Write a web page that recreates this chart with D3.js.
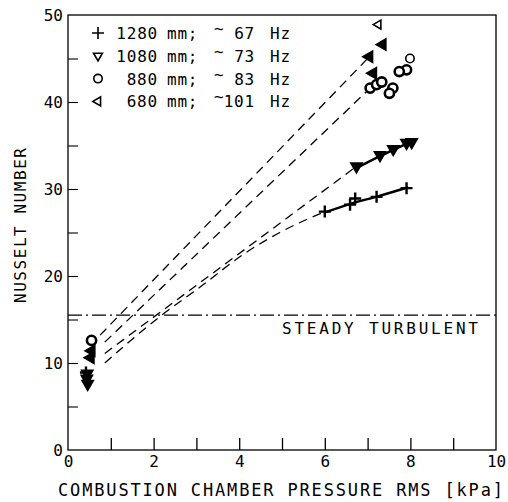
<!DOCTYPE html>
<html>
<head>
<meta charset="utf-8">
<script src="https://cdn.jsdelivr.net/npm/d3@7"></script>
<style>
  body { margin: 0; background: #fff; }
  text { font-family: "DejaVu Sans Mono", monospace; fill: #000; }
</style>
</head>
<body>
<div id="chart"></div>
<script>
// data (x = pressure rms kPa, y = Nusselt number)
var series1280 = [[0.42, 8.9], [6.0, 27.4], [6.59, 28.2], [6.71, 28.9], [7.21, 29.1], [7.91, 30.1]];
var series1080 = [[0.45, 8.8], [0.44, 8.2], [0.46, 7.6], [6.74, 32.6], [7.29, 33.9], [7.6, 34.6], [7.91, 35.3], [8.03, 35.4]];
var series880 = [[0.55, 12.6], [7.99, 45.0], [7.91, 43.7], [7.74, 43.5], [7.59, 41.6], [7.51, 41.0], [7.06, 41.6], [7.21, 42.0], [7.33, 42.3]];
var series680 = [[0.55, 11.4], [0.53, 10.6], [7.25, 48.9], [7.35, 46.6], [7.04, 45.2], [7.13, 43.3]];

// solid fits through the high pressure points
var fit1280 = [[6.0, 27.3], [6.6, 28.3], [7.2, 29.1], [7.95, 30.2]];
var fit1080 = [[6.74, 32.4], [7.3, 33.8], [7.6, 34.5], [8.0, 35.4]];

// dashed connections low -> high pressure
var dash680 = [[0.75, 13.2], [7.04, 45.2]];
var dash880 = [[0.86, 12.4], [7.06, 41.6]];
var dash1080 = [[0.86, 11.1], [6.74, 32.6]];
var dash1280 = [[0.86, 10.0], [2.19, 15.5], [3.08, 18.7], [4.1, 22.5], [4.95, 25.0], [6.0, 27.4]];

var steadyTurbulent = 15.5;

var legendLength = ["1280", "1080", "880", "680"];
var legendFreq = ["67", "73", "83", "101"];
var legendSymbols = ["plus", "down", "circle", "left"];

var xTicks = [0, 2, 4, 6, 8, 10];
var yTicks = [0, 10, 20, 30, 40, 50];

var width = 508, height = 502;
var margin = { top: 15, right: 12, bottom: 52, left: 68 };

var svg = d3.select("#chart").append("svg")
  .attr("width", width)
  .attr("height", height);

var x = d3.scaleLinear().domain([0, 10]).range([margin.left, width - margin.right]);
var y = d3.scaleLinear().domain([0, 50]).range([height - margin.bottom, margin.top]);

// frame
svg.append("rect")
  .attr("x", x(0)).attr("y", y(50))
  .attr("width", x(10) - x(0)).attr("height", y(0) - y(50))
  .attr("fill", "none").attr("stroke", "#000").attr("stroke-width", 1.3);

// inward ticks
svg.append("g")
  .attr("transform", "translate(0," + y(0) + ")")
  .call(d3.axisTop(x).tickValues(d3.range(1, 10)).tickSize(12).tickFormat(""))
  .call(function(g) { g.select(".domain").remove(); })
  .selectAll("line").attr("stroke-width", 1.3);

svg.append("g")
  .attr("transform", "translate(" + x(0) + ",0)")
  .call(d3.axisRight(y).tickValues(d3.range(5, 50, 5)).tickSize(10).tickFormat(""))
  .call(function(g) { g.select(".domain").remove(); })
  .selectAll("line").attr("stroke-width", 1.1);

// tick labels
svg.append("g")
  .attr("transform", "translate(0," + y(0) + ")")
  .call(d3.axisBottom(x).tickValues(xTicks).tickSize(0).tickPadding(6))
  .call(function(g) { g.select(".domain").remove(); })
  .selectAll("text")
  .style("font-family", "DejaVu Sans Mono")
  .style("font-size", "16px");

svg.append("g")
  .attr("transform", "translate(" + (x(0) - 1) + ",0)")
  .call(d3.axisLeft(y).tickValues(yTicks).tickSize(0).tickPadding(4))
  .call(function(g) { g.select(".domain").remove(); })
  .selectAll("text")
  .style("font-family", "DejaVu Sans Mono")
  .style("font-size", "16px");

// axis titles
svg.append("text")
  .attr("x", 58).attr("y", 496)
  .attr("textLength", 445).attr("lengthAdjust", "spacing")
  .style("font-size", "17px")
  .text("COMBUSTION CHAMBER PRESSURE RMS [kPa]");

svg.append("text")
  .attr("transform", "translate(26,303) rotate(-90)")
  .attr("textLength", 155).attr("lengthAdjust", "spacing")
  .style("font-size", "16px")
  .text("NUSSELT NUMBER");

// steady turbulent reference
svg.append("line")
  .attr("x1", x(0)).attr("x2", x(10))
  .attr("y1", y(steadyTurbulent)).attr("y2", y(steadyTurbulent))
  .attr("stroke", "#000").attr("stroke-width", 1.3)
  .attr("stroke-dasharray", "14,4,2,4");

svg.append("text")
  .attr("x", 282).attr("y", 334)
  .attr("textLength", 196).attr("lengthAdjust", "spacing")
  .style("font-size", "16px")
  .text("STEADY TURBULENT");

// lines
var line = d3.line()
  .x(function(d) { return x(d[0]); })
  .y(function(d) { return y(d[1]); })
  .curve(d3.curveMonotoneX);

[dash680, dash880, dash1080, dash1280].forEach(function(d) {
  svg.append("path")
    .attr("d", line(d))
    .attr("fill", "none").attr("stroke", "#000").attr("stroke-width", 1.3)
    .attr("stroke-dasharray", "9,6");
});

[fit1280, fit1080].forEach(function(d) {
  svg.append("path")
    .attr("d", line(d))
    .attr("fill", "none").attr("stroke", "#000").attr("stroke-width", 2.4);
});

// markers
function drawMarker(g, type, px, py, heavy) {
  if (type == "plus") {
    g.append("path")
      .attr("d", "M" + (px - 6) + "," + py + "H" + (px + 6) + "M" + px + "," + (py - 6) + "V" + (py + 6))
      .attr("stroke", "#000").attr("stroke-width", heavy ? 2.4 : 1.6);
  } else if (type == "circle") {
    g.append("circle")
      .attr("cx", px).attr("cy", py).attr("r", heavy ? 4.6 : 4.2)
      .attr("fill", "#fff").attr("stroke", "#000").attr("stroke-width", heavy ? 2.6 : 1.6);
  } else {
    var rot = type == "down" ? 180 : -90;
    g.append("path")
      .attr("d", d3.symbol().type(d3.symbolTriangle).size(heavy ? 55 : 34)())
      .attr("transform", "translate(" + px + "," + py + ") rotate(" + rot + ")")
      .attr("fill", heavy ? "#000" : "#fff")
      .attr("stroke", "#000").attr("stroke-width", 1.6);
  }
}

var marks = svg.append("g");
series1280.forEach(function(d) { drawMarker(marks, "plus", x(d[0]), y(d[1]), true); });
series1080.forEach(function(d) { drawMarker(marks, "down", x(d[0]), y(d[1]), true); });
series880.forEach(function(d, i) { drawMarker(marks, "circle", x(d[0]), y(d[1]), i != 1); });
series680.forEach(function(d, i) { drawMarker(marks, "left", x(d[0]), y(d[1]), i != 2); });

// legend
var legend = svg.append("g").style("font-size", "16px");
legendLength.forEach(function(t, i) {
  var ly = 33 + i * 22.8;
  drawMarker(legend, legendSymbols[i], 98, ly, false);
  legend.append("text").attr("x", 158).attr("y", ly + 6).attr("text-anchor", "end")
    .attr("letter-spacing", 0.8).text(t);
  legend.append("text").attr("x", 167).attr("y", ly + 6)
    .attr("letter-spacing", 0.8).text("mm;");
  legend.append("text").attr("x", 214).attr("y", ly + 1).text("~");
  legend.append("text").attr("x", 255).attr("y", ly + 6).attr("text-anchor", "end")
    .attr("letter-spacing", 0.8).text(legendFreq[i]);
  legend.append("text").attr("x", 270).attr("y", ly + 6)
    .attr("letter-spacing", 0.8).text("Hz");
});
</script>
</body>
</html>
